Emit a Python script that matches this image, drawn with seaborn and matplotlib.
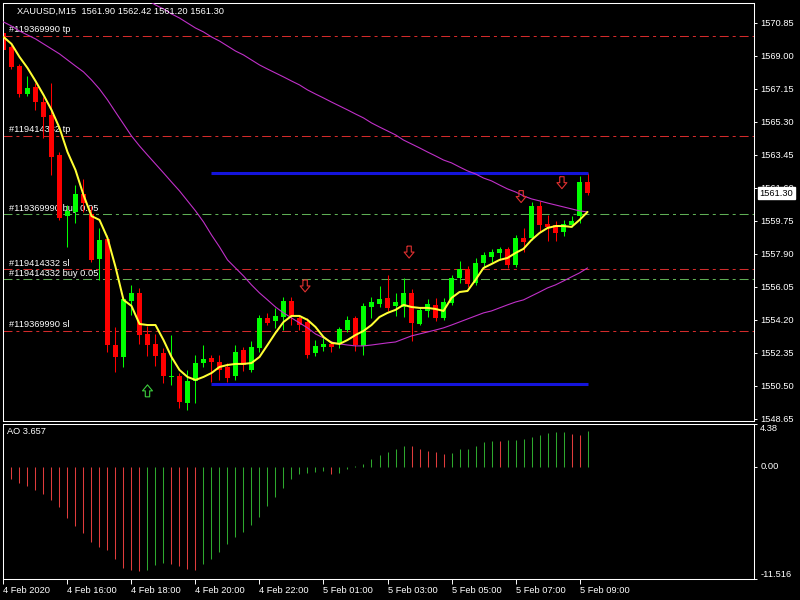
import numpy as np
import pandas as pd
import matplotlib
matplotlib.use("Agg")
from matplotlib import pyplot as plt
from matplotlib import transforms
from matplotlib.path import Path
import seaborn as sns

# Datos (XAUUSD M15)
bar_open = [1570.27, 1569.46, 1568.42, 1566.85, 1567.22, 1566.42, 1565.68, 1563.43, 1560.00, 1560.24,
            1561.25, 1560.15, 1557.58, 1558.72, 1552.78, 1552.09, 1555.25, 1555.70, 1553.40, 1552.84,
            1552.34, 1551.00, 1551.05, 1549.53, 1550.77, 1551.75, 1552.03, 1551.83, 1551.52, 1551.05,
            1552.50, 1551.38, 1552.61, 1554.30, 1554.13, 1554.35, 1555.25, 1554.30, 1554.09, 1552.34,
            1552.67, 1552.84, 1552.84, 1553.63, 1554.27, 1552.73, 1554.89, 1555.08, 1555.42, 1554.97,
            1554.93, 1555.70, 1553.96, 1554.66, 1555.05, 1554.30, 1555.14, 1556.51, 1557.04, 1556.26,
            1557.35, 1557.72, 1557.91, 1558.16, 1557.27, 1558.80, 1558.76, 1560.58, 1559.54, 1559.51,
            1559.12, 1559.51, 1560.00, 1561.90]
bar_high = [1570.44, 1569.60, 1568.53, 1567.86, 1567.47, 1566.69, 1567.47, 1563.60, 1560.63, 1561.76,
            1562.07, 1560.57, 1559.34, 1558.95, 1553.79, 1555.42, 1556.15, 1555.98, 1553.85, 1553.40,
            1552.62, 1553.34, 1551.21, 1551.39, 1552.22, 1552.78, 1552.22, 1552.22, 1551.77, 1552.78,
            1552.67, 1553.01, 1554.47, 1554.58, 1554.86, 1555.49, 1555.47, 1554.47, 1554.30, 1553.07,
            1553.18, 1553.01, 1553.81, 1554.41, 1554.41, 1555.14, 1555.47, 1556.09, 1556.71, 1555.70,
            1556.52, 1555.92, 1554.91, 1555.36, 1555.39, 1555.42, 1556.71, 1557.49, 1557.21, 1557.66,
            1558.00, 1558.14, 1558.28, 1558.28, 1558.95, 1559.34, 1560.82, 1560.86, 1560.04, 1559.71,
            1559.79, 1560.02, 1562.26, 1562.42]
bar_low = [1569.21, 1568.28, 1566.68, 1566.74, 1565.96, 1564.39, 1562.31, 1559.79, 1558.29, 1559.62,
           1560.24, 1557.44, 1556.43, 1552.39, 1551.29, 1551.57, 1554.47, 1552.84, 1552.17, 1551.61,
           1550.64, 1550.54, 1549.25, 1549.14, 1549.55, 1551.55, 1550.73, 1550.82, 1550.73, 1550.82,
           1551.33, 1551.27, 1552.39, 1553.90, 1553.74, 1553.63, 1553.90, 1553.63, 1552.06, 1552.18,
           1552.45, 1552.39, 1552.60, 1553.52, 1552.45, 1552.22, 1554.30, 1554.91, 1554.69, 1554.41,
           1554.37, 1553.01, 1553.90, 1554.35, 1554.13, 1554.19, 1555.03, 1556.26, 1556.03, 1556.15,
           1557.10, 1557.46, 1557.55, 1557.10, 1557.16, 1558.00, 1558.67, 1559.12, 1558.61, 1558.59,
           1558.89, 1559.40, 1559.62, 1561.20]
bar_close = [1569.32, 1568.39, 1566.85, 1567.16, 1566.38, 1565.55, 1563.34, 1559.90, 1560.27, 1561.25,
             1560.74, 1557.55, 1558.67, 1552.76, 1552.08, 1555.34, 1555.67, 1553.34, 1552.78, 1552.14,
             1551.05, 1551.04, 1549.56, 1550.77, 1551.77, 1552.00, 1551.83, 1551.38, 1550.93, 1552.41,
             1551.66, 1552.69, 1554.28, 1554.02, 1554.38, 1555.27, 1554.38, 1553.90, 1552.22, 1552.70,
             1552.84, 1552.67, 1553.68, 1554.19, 1552.78, 1554.94, 1555.19, 1555.35, 1554.83, 1555.17,
             1555.68, 1554.02, 1554.75, 1555.08, 1554.27, 1555.19, 1556.52, 1557.04, 1556.20, 1557.38,
             1557.80, 1558.00, 1558.16, 1557.27, 1558.76, 1558.58, 1560.58, 1559.51, 1559.37, 1559.06,
             1559.57, 1559.71, 1561.90, 1561.30]

# Medias moviles
ma_fast = [1570.05, 1569.66, 1568.93, 1568.31, 1567.58, 1566.80, 1565.96, 1564.95, 1563.60, 1562.59,
           1561.19, 1560.01, 1559.79, 1558.78, 1557.16, 1555.31, 1554.97, 1553.96, 1553.90, 1553.90,
           1553.06, 1552.11, 1551.38, 1550.99, 1550.82, 1550.99, 1551.21, 1551.55, 1551.66, 1551.72,
           1551.72, 1551.77, 1552.11, 1552.78, 1553.46, 1554.07, 1554.41, 1554.41, 1554.19, 1553.79,
           1553.23, 1552.90, 1552.84, 1553.06, 1553.34, 1553.57, 1553.90, 1554.35, 1554.58, 1554.75,
           1555.03, 1554.91, 1554.86, 1554.86, 1554.80, 1554.69, 1555.42, 1555.75, 1555.81, 1556.43,
           1557.10, 1557.32, 1557.55, 1557.66, 1557.94, 1558.17, 1558.67, 1559.06, 1559.34, 1559.45,
           1559.45, 1559.40, 1559.79, 1560.24]
ma_slow = [1570.89, 1570.66, 1570.38, 1570.16, 1569.94, 1569.66, 1569.38, 1569.10, 1568.76, 1568.42,
           1568.09, 1567.64, 1567.13, 1566.52, 1565.84, 1565.17, 1564.50, 1563.94, 1563.43, 1562.93,
           1562.43, 1561.92, 1561.42, 1560.86, 1560.30, 1559.68, 1558.95, 1558.28, 1557.55, 1557.10,
           1556.65, 1556.15, 1555.70, 1555.31, 1554.91, 1554.58, 1554.30, 1554.02, 1553.74, 1553.40,
           1553.18, 1552.95, 1552.84, 1552.78, 1552.73, 1552.73, 1552.78, 1552.84, 1552.90, 1552.95,
           1553.12, 1553.29, 1553.40, 1553.51, 1553.62, 1553.74, 1553.90, 1554.07, 1554.24, 1554.41,
           1554.58, 1554.69, 1554.86, 1555.03, 1555.19, 1555.31, 1555.53, 1555.75, 1555.98, 1556.15,
           1556.37, 1556.60, 1556.82, 1557.10]
ma_long_first_bar = 18
ma_long = [1572.12, 1571.84, 1571.62, 1571.34, 1571.11, 1570.83, 1570.55, 1570.33, 1570.05, 1569.82,
           1569.54, 1569.26, 1569.04, 1568.76, 1568.48, 1568.25, 1568.03, 1567.81, 1567.58, 1567.36,
           1567.08, 1566.85, 1566.63, 1566.40, 1566.18, 1565.96, 1565.73, 1565.51, 1565.23, 1565.00,
           1564.78, 1564.56, 1564.27, 1564.05, 1563.83, 1563.60, 1563.38, 1563.15, 1562.99, 1562.76,
           1562.54, 1562.37, 1562.14, 1561.98, 1561.75, 1561.53, 1561.36, 1561.14, 1560.97, 1560.86,
           1560.74, 1560.63, 1560.52, 1560.41, 1560.30, 1560.24]

# Awesome Oscillator
ao_values = [-0.96, -1.30, -1.64, -1.98, -2.43, -2.84, -3.45, -4.14, -5.30, -6.09,
             -6.84, -7.69, -8.21, -8.55, -9.50, -10.43, -10.60, -10.70, -10.63, -10.09,
             -9.91, -10.02, -10.19, -10.53, -10.55, -10.02, -9.50, -8.75, -7.97, -7.21,
             -6.67, -6.02, -5.13, -4.03, -3.11, -2.22, -1.23, -0.72, -0.62, -0.58,
             -0.44, -0.72, -0.62, -0.27, 0.03, 0.24, 0.82, 1.20, 1.48, 1.85,
             2.12, 2.08, 1.85, 1.61, 1.50, 1.26, 1.37, 1.78, 1.85, 2.12,
             2.53, 2.63, 2.60, 2.70, 2.72, 2.87, 3.04, 3.25, 3.49, 3.56,
             3.58, 3.32, 3.30, 3.657]

# Ordenes (lineas horizontales)
order_prices = [1570.10, 1564.50, 1560.11, 1557.03, 1556.47, 1553.57]
order_labels = ["#119369990 tp", "#119414332 tp", "#119369990 buy 0.05",
                "#119414332 sl", "#119414332 buy 0.05", "#119369990 sl"]
order_is_entry = [False, False, True, False, True, False]

# Niveles azules
level_prices = [1562.45, 1550.62]
level_from_bar = 26
level_to_bar = 73

# Flechas
arrow_down_x = [37.7, 50.7, 64.7, 69.8]
arrow_down_price = [1556.09, 1557.99, 1561.10, 1561.88]
arrow_up_x = [18.0]
arrow_up_price = [1550.21]

# Ejes
price_ticks = [1570.85, 1569.00, 1567.15, 1565.30, 1563.45, 1561.60, 1559.75,
               1557.90, 1556.05, 1554.20, 1552.35, 1550.50, 1548.65]
ao_ticks = [4.38, 0.0, -11.516]
ao_tick_labels = ["4.38", "0.00", "-11.516"]
time_ticks = [0, 8, 16, 24, 32, 40, 48, 56, 64, 72]
time_labels = ["4 Feb 2020", "4 Feb 16:00", "4 Feb 18:00", "4 Feb 20:00", "4 Feb 22:00",
               "5 Feb 01:00", "5 Feb 03:00", "5 Feb 05:00", "5 Feb 07:00", "5 Feb 09:00"]
title_text = "XAUUSD,M15  1561.90 1562.42 1561.20 1561.30"
last_price = 1561.30

sns.set_theme(style="dark", rc={
    "figure.facecolor": "black", "axes.facecolor": "black",
    "axes.edgecolor": "white", "axes.linewidth": 0.75,
    "xtick.color": "white", "ytick.color": "white", "text.color": "white",
})
plt.rcParams["font.family"] = ["Liberation Sans", "DejaVu Sans"]
FS = 6.7

df = pd.DataFrame({"open": bar_open, "high": bar_high, "low": bar_low, "close": bar_close})
df["bar"] = np.arange(len(df))
df["up"] = df["close"] >= df["open"]
df["color"] = np.where(df["up"], "#00ff00", "#ff0000")

fig = plt.figure(figsize=(8, 6), dpi=100)
ax = fig.add_axes([3 / 800, 1 - 421 / 600, 751 / 800, 418.5 / 600])
ax_ao = fig.add_axes([3 / 800, 1 - 579 / 600, 751 / 800, 155 / 600])

xlim = (-0.06, 93.81)

# --- panel principal ---
dash = (0, (8.6, 3.8, 2.9, 3.8))
blend = transforms.blended_transform_factory(ax.transAxes, ax.transData)
for price, label, entry in zip(order_prices, order_labels, order_is_entry):
    ax.axhline(price, color="#5fae55" if entry else "#d22b2b", lw=0.75, ls=dash, zorder=1)
    ax.text(0.0084, price + 0.09, label, transform=blend, fontsize=FS, color="white",
            va="bottom", ha="left", zorder=1.5)

ax.vlines(df["bar"], df["low"], df["high"], colors=df["color"], lw=0.75, zorder=2)
body = (df["close"] - df["open"]).abs().clip(lower=0.04)
ax.bar(df["bar"], body, bottom=df[["open", "close"]].min(axis=1), width=0.62,
       color=df["color"], linewidth=0, zorder=2.1)

ax.hlines(level_prices, level_from_bar, level_to_bar, colors="#1414dc", lw=2.2, zorder=2.5)

sns.lineplot(x=df["bar"], y=ma_slow, ax=ax, color="#c030c8", lw=0.8, zorder=3)
long_x = np.arange(ma_long_first_bar, ma_long_first_bar + len(ma_long))
sns.lineplot(x=long_x, y=ma_long, ax=ax, color="#c030c8", lw=0.8, zorder=3)
sns.lineplot(x=df["bar"], y=ma_fast, ax=ax, color="#ffff33", lw=1.45, zorder=3.2)

down_path = Path([(-0.22, 0.6), (0.22, 0.6), (0.22, 0.0), (0.5, 0.0), (0.0, -0.6),
                  (-0.5, 0.0), (-0.22, 0.0), (-0.22, 0.6)])
up_path = Path([(x, -y) for x, y in down_path.vertices])
ax.scatter(arrow_down_x, arrow_down_price, marker=down_path, s=74, facecolors="none",
           edgecolors="#e03030", linewidths=0.8, zorder=4)
ax.scatter(arrow_up_x, arrow_up_price, marker=up_path, s=74, facecolors="none",
           edgecolors="#3ccc3c", linewidths=0.8, zorder=4)

ax.set_xlim(*xlim)
ax.set_ylim(1548.52, 1571.98)
ax.set_xticks([])
ax.yaxis.tick_right()
ax.set_yticks(price_ticks)
ax.set_yticklabels([f"{p:.2f}" for p in price_ticks])
ax.tick_params(axis="y", right=True, left=False, length=2.5, width=0.7,
               colors="white", labelsize=FS, pad=2, direction="out")
ax.set_xlabel("")
ax.set_ylabel("")
ax.grid(False)

ax.text(1.0075, last_price, f"{last_price:.2f}", transform=blend, fontsize=FS,
        color="black", va="center", ha="left", clip_on=False, zorder=10,
        bbox=dict(boxstyle="square,pad=0.15", fc="white", ec="white"))

# --- panel AO ---
ao = np.array(ao_values)
ao_up = np.r_[True, ao[1:] > ao[:-1]]
ao_colors = np.where(ao_up, "#2ea82e", "#e03c3c")
ax_ao.vlines(df["bar"], 0, ao, colors=ao_colors, lw=0.75)
ax_ao.set_xlim(*xlim)
ax_ao.set_ylim(-11.516, 4.38)
ax_ao.yaxis.tick_right()
ax_ao.set_yticks(ao_ticks)
ax_ao.set_yticklabels(ao_tick_labels)
for lbl, va in zip(ax_ao.get_yticklabels(), ["top", "center", "bottom"]):
    lbl.set_va(va)
ax_ao.set_xticks(time_ticks)
ax_ao.set_xticklabels(time_labels, ha="left")
ax_ao.tick_params(axis="y", right=True, left=False, length=2.5, width=0.7,
                  colors="white", labelsize=FS, pad=2, direction="out")
ax_ao.tick_params(axis="x", bottom=True, length=3.5, width=0.7,
                  colors="white", labelsize=FS, pad=1.5, direction="out")
ax_ao.grid(False)

for a in (ax, ax_ao):
    for sp in a.spines.values():
        sp.set_color("white")
        sp.set_linewidth(0.75)

fig.text(17 / 800, 1 - 11 / 600, title_text, fontsize=FS, color="white", va="center", ha="left")
fig.text(7 / 800, 1 - 432 / 600, f"AO {ao_values[-1]:.3f}", fontsize=FS, color="white",
         va="center", ha="left")

fig.savefig("out.png", dpi=100, facecolor="black")
